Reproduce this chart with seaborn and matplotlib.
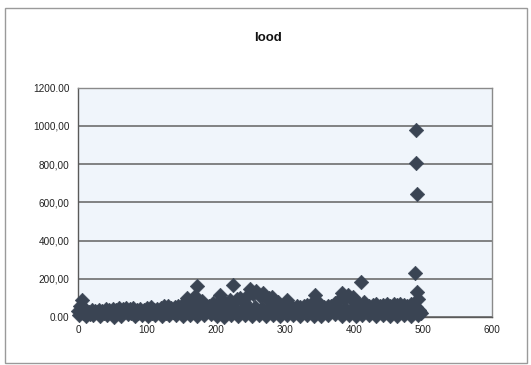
import matplotlib
matplotlib.use("Agg")
import matplotlib.pyplot as plt
import seaborn as sns
import pandas as pd
from matplotlib.patches import Rectangle

# --- data -------------------------------------------------------------
title_text = "lood"

# upper part of the point cloud
body_x = [0, 3, 6, 9, 12, 16, 20, 25, 30, 35, 40, 45, 50, 55, 60, 65, 70, 75,
          80, 85, 90, 95, 100, 105, 110, 115, 120, 125, 130, 135, 140, 145,
          150, 155, 158, 162, 166, 170, 172, 176, 180, 185, 190, 195, 200,
          206, 210, 215, 220, 225, 230, 235, 240, 245, 249, 254, 258, 263,
          268, 273, 277, 281, 286, 290, 295, 300, 303, 308, 312, 317, 322,
          327, 332, 337, 343, 348, 352, 357, 362, 367, 372, 377, 383, 387,
          391, 395, 398, 402, 406, 410, 414, 418, 422, 427, 432, 437, 442,
          447, 452, 457, 462, 467, 472, 477, 482, 486, 490, 494, 497]
body_y = [30, 60, 88, 45, 30, 25, 35, 30, 38, 32, 40, 35, 42, 38, 45, 40, 48, 42,
          45, 38, 40, 35, 45, 52, 38, 42, 48, 55, 60, 45, 50, 55,
          62, 70, 100, 80, 95, 110, 160, 75, 85, 60, 55, 75, 65,
          115, 80, 70, 90, 168, 95, 100, 80, 110, 146, 120, 135, 110,
          125, 95, 100, 104, 75, 80, 60, 70, 89, 55, 45, 60, 50,
          55, 65, 70, 115, 80, 60, 50, 55, 60, 75, 85, 125, 100,
          115, 95, 105, 85, 70, 183, 80, 60, 55, 65, 70, 60, 65,
          70, 60, 68, 62, 70, 65, 58, 70, 60, 50, 35, 20]

# middle band of the point cloud
mid_x = [7, 17, 27, 37, 47, 57, 67, 77, 87, 97, 107, 117, 127, 137, 147, 157,
         167, 177, 187, 197, 207, 217, 227, 237, 247, 257, 267, 277, 287,
         297, 307, 317, 327, 337, 347, 357, 367, 377, 387, 397, 407, 417,
         427, 437, 447, 457, 467, 477, 487, 495]
mid_y = [22, 18, 25, 20, 24, 19, 27, 21, 23, 26, 20, 28, 22, 25, 30, 35,
         40, 38, 32, 36, 42, 34, 45, 38, 48, 52, 46, 44, 36, 30, 33, 26,
         29, 31, 35, 27, 32, 38, 45, 42, 36, 30, 28, 32, 30, 27, 31, 29,
         33, 24]

# lower part of the point cloud
base_x = [2, 12, 22, 32, 42, 52, 62, 72, 82, 92, 102, 112, 122, 132, 142, 152,
          162, 172, 182, 192, 202, 212, 222, 232, 242, 252, 262, 272, 282,
          292, 302, 312, 322, 332, 342, 352, 362, 372, 382, 392, 402, 412,
          422, 432, 442, 452, 462, 472, 482, 492]
base_y = [8, 3, 12, 5, 10, 2, 7, 14, 4, 9, 6, 11, 3, 8, 13, 5, 10, 4, 9, 15,
          6, 2, 11, 7, 12, 4, 9, 6, 13, 3, 8, 10, 5, 12, 7, 3, 9, 14, 6, 11,
          4, 8, 13, 5, 10, 7, 3, 12, 6, 9]

# isolated high values near the end of the series
peak_x = [488, 490, 490, 491, 491, 493]
peak_y = [230, 980, 805, 645, 130, 95]

x_ticks = [0, 100, 200, 300, 400, 500, 600]
y_ticks = [0, 200, 400, 600, 800, 1000, 1200]
y_tick_labels = ["0.00", "200,00", "400,00", "600,00", "800,00", "1000,00", "1200.00"]

df = pd.DataFrame({
    "x": body_x + mid_x + base_x + peak_x,
    "y": body_y + mid_y + base_y + peak_y,
})

# --- style ------------------------------------------------------------
sns.set_theme(style="white")
plt.rcParams["font.family"] = ["Liberation Sans", "DejaVu Sans"]

fig = plt.figure(figsize=(5.31, 3.65), dpi=100)
fig.patch.set_facecolor("white")

# outer chart frame
fig.patches.append(Rectangle((0.0094, 0.006), 0.983, 0.972, transform=fig.transFigure,
                             fill=False, edgecolor="#9a9a9a", linewidth=1.0))

ax = fig.add_axes([0.147, 0.1315, 0.78, 0.628])
ax.set_facecolor("#f0f5fb")

marker_color = "#3a4453"
sns.scatterplot(data=df, x="x", y="y", marker="D", s=55, color=marker_color,
                edgecolor=marker_color, linewidth=0.4, ax=ax, legend=False,
                clip_on=False, zorder=3)

ax.set_xlim(0, 600)
ax.set_ylim(0, 1200)
ax.set_xticks(x_ticks)
ax.set_yticks(y_ticks)
ax.set_yticklabels(y_tick_labels)
ax.set_xlabel("")
ax.set_ylabel("")

ax.yaxis.grid(True, color="#6e6e6e", linewidth=1.2)
ax.xaxis.grid(False)
ax.set_axisbelow(True)

for side in ["left", "right", "top", "bottom"]:
    ax.spines[side].set_visible(True)
    ax.spines[side].set_color("#8a8a8a")
    ax.spines[side].set_linewidth(1.0)
ax.spines["left"].set_color("#5a5a5a")
ax.spines["bottom"].set_color("#5a5a5a")

ax.tick_params(axis="both", which="major", labelsize=7.2, colors="#222222",
               length=3, width=0.8, direction="out", pad=3)
ax.tick_params(axis="both", color="#707070")
ax.tick_params(axis="x", length=0, pad=6)

fig.text(0.505, 0.896, title_text, ha="center", va="center",
         fontsize=9.5, fontweight="bold", color="#111111")

fig.savefig("out.png", dpi=100)
